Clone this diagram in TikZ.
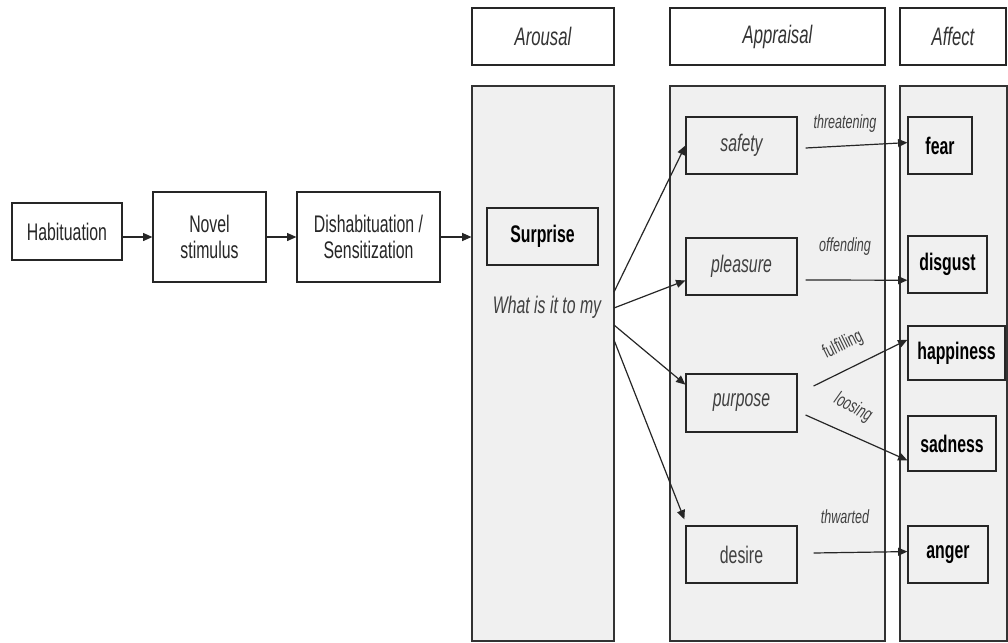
\documentclass[tikz,border=0pt]{standalone}
\usepackage{fontspec}
\setmainfont{Liberation Sans}[FakeStretch=0.66]
\usetikzlibrary{arrows.meta,calc}
\newcommand\mybox[7]{\node[#1, minimum width={(#5-#3)*0.75pt}, minimum height={(#6-#4)*0.75pt}] (#2) at ({(#3+#5)/2},{(#4+#6)/2}) {#7};}
\begin{document}
\begin{tikzpicture}[x=0.75pt,y=-0.75pt,
  every node/.style={font=\fontsize{18}{19}\selectfont},
  plain/.style={draw=black!85,line width=0.9pt,fill=white,inner sep=0pt,align=center,text=black!85},
  panel/.style={draw=black!80,line width=0.8pt,fill=black!6,inner sep=0pt},
  gbox/.style={plain,fill=black!6},
  itbox/.style={gbox,font=\fontsize{18}{19}\selectfont\itshape,text=black!75},
  bfbox/.style={gbox,font=\fontsize{18}{19}\selectfont\bfseries,text=black},
  head/.style={plain,font=\fontsize{19}{20}\selectfont\itshape,text=black!80},
  arr/.style={-{Triangle[length=7pt,width=6pt]},line width=0.9pt,draw=black!85},
  lbl/.style={font=\fontsize{14.3}{15}\selectfont\itshape,text=black!75,inner sep=0pt}
]
\useasboundingbox (0,0) rectangle (1008,643);

% headers
\mybox{head}{arousalH}{472}{8}{614}{65}{Arousal}
\mybox{head}{appraisalH}{670}{8}{885}{65}{Appraisal}
\mybox{head}{affectH}{900}{8}{1006}{65}{Affect}

% panels
\mybox{panel}{arousalP}{472}{86}{614}{641}{}
\mybox{panel}{appraisalP}{670}{86}{885}{641}{}
\mybox{panel}{affectP}{900}{86}{1007}{641}{}

% left chain
\mybox{plain}{hab}{12}{203}{122}{260}{Habituation}
\mybox{plain}{novel}{153}{192}{266}{282}{Novel\\stimulus}
\mybox{plain}{dish}{297}{192}{440}{282}{Dishabituation /\\Sensitization}

% arousal
\mybox{bfbox}{surprise}{487}{208}{598}{265}{Surprise}
\node[font=\fontsize{18}{19}\selectfont\itshape,text=black!75,inner sep=0pt] (what) at (547,307) {What is it to my};

% appraisal
\mybox{itbox}{safety}{686}{117}{797}{174}{safety}
\mybox{itbox}{pleasure}{686}{238}{797}{295}{pleasure}
\mybox{itbox}{purpose}{686}{374}{797}{432}{purpose}
\mybox{gbox,text=black!75}{desire}{686}{526}{797}{583}{desire}

% affect
\mybox{bfbox}{fear}{908}{117}{972}{174}{fear}
\mybox{bfbox}{disgust}{908}{236}{987}{293}{disgust}
\mybox{bfbox}{happiness}{908}{326}{1005}{380}{happiness}
\mybox{bfbox}{sadness}{908}{416}{996}{471}{sadness}
\mybox{bfbox}{anger}{908}{526}{988}{583}{anger}

% chain arrows
\draw[arr] (hab.east |- novel.west) -- (novel.west);
\draw[arr] (novel.east) -- (dish.west);
\draw[arr] (dish.east) -- (dish.east -| arousalP.west);

% fan
\coordinate (f1) at (614,292);
\coordinate (f2) at (614,308);
\coordinate (f3) at (614,325);
\coordinate (f4) at (614,340);
\draw[arr] (f1) -- (safety.west);
\draw[arr] (f2) -- ($(pleasure.north west)!0.74!(pleasure.south west)$);
\draw[arr] (f3) -- ($(purpose.north west)!0.19!(purpose.south west)$);
\draw[arr] (f4) -- ($(desire.north west)+(-1,-6)$);

% appraisal -> affect
\draw[arr] ($(safety.east)+(8,2.5)$) -- ($(fear.north west)!0.45!(fear.south west)$);
\draw[arr] ($(pleasure.east)+(8,13.5)$) -- ($(disgust.north west)!0.77!(disgust.south west)$);
\draw[arr] ($(purpose.east)+(16,-17)$) -- ($(happiness.north west)!0.26!(happiness.south west)$);
\draw[arr] ($(purpose.east)+(8,12)$) -- ($(sadness.north west)!0.8!(sadness.south west)$);
\draw[arr] ($(desire.east)+(16,-1.5)$) -- ($(anger.north west)!0.45!(anger.south west)$);

% labels
\node[lbl] (l1) at (845,124) {threatening};
\node[lbl] (l2) at (845,247) {offending};
\node[lbl, font=\fontsize{14.3}{15}\selectfont, rotate=26] (l3) at (843,345) {fulfilling};
\node[lbl, rotate=-28] (l4) at (853,408) {loosing};
\node[lbl] (l5) at (845,517) {thwarted};
\end{tikzpicture}
\end{document}
